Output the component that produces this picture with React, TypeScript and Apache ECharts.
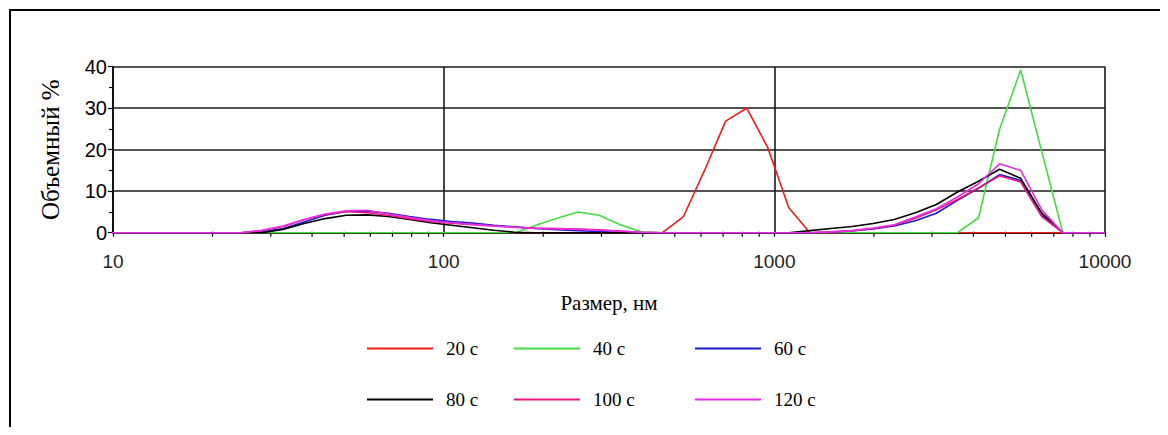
import React, { useEffect, useRef } from "react";
import * as echarts from "echarts";

// Size bins, nm (log-spaced)
const sizes = [
  8.721, 10.1, 11.7, 13.54, 15.69, 18.17, 21.04, 24.36, 28.21, 32.67, 37.84, 43.82, 50.75, 58.77,
  68.06, 78.82, 91.28, 105.7, 122.4, 141.8, 164.2, 190.1, 220.2, 255.0, 295.3, 342.0, 396.1, 458.7,
  531.2, 615.1, 712.4, 825.0, 955.4, 1106, 1281, 1484, 1718, 1990, 2305, 2669, 3091, 3580, 4145,
  4801, 5560, 6439, 7456, 8635, 10000,
];

// Volume %, one value per size bin
const s20 = [
  0, 0, 0, 0, 0, 0, 0, 0, 0, 0, 0, 0, 0, 0,
  0, 0, 0, 0, 0, 0, 0, 0, 0, 0, 0, 0, 0, 0,
  3.9, 15, 26.9, 30, 20.5, 6, 0, 0, 0, 0, 0, 0, 0, 0, 0,
  0, 0, 0, 0, 0, 0,
];
const s40 = [
  0, 0, 0, 0, 0, 0, 0, 0, 0, 0, 0, 0, 0, 0,
  0, 0, 0, 0, 0, 0, 0, 1.8, 3.5, 5.0, 4.2, 1.9, 0.2, 0,
  0, 0, 0, 0, 0, 0, 0, 0, 0, 0, 0, 0, 0, 0, 3.6,
  25, 39.2, 19.5, 0, 0, 0,
];
const s60 = [
  0, 0, 0, 0, 0, 0, 0, 0, 0.2, 1.0, 2.6, 4.2, 5.1, 5.2,
  4.7, 3.9, 3.2, 2.7, 2.3, 1.8, 1.4, 1.0, 0.7, 0.5, 0.3, 0.1, 0, 0,
  0, 0, 0, 0, 0, 0, 0, 0.1, 0.4, 0.9, 1.6, 2.9, 4.7, 7.8, 10.7,
  14.0, 12.6, 4.2, 0, 0, 0,
];
const s80 = [
  0, 0, 0, 0, 0, 0, 0, 0, 0, 0.8, 2.2, 3.4, 4.2, 4.3,
  3.9, 3.2, 2.4, 1.8, 1.2, 0.6, 0.1, 0, 0, 0, 0, 0, 0, 0,
  0, 0, 0, 0, 0, 0, 0.5, 1.0, 1.5, 2.2, 3.2, 4.8, 6.8, 9.8, 12.4,
  15.3, 13.1, 4.7, 0, 0, 0,
];
const s100 = [
  0, 0, 0, 0, 0, 0, 0, 0, 0.5, 1.5, 3.1, 4.4, 5.1, 4.8,
  4.2, 3.4, 2.7, 2.3, 1.9, 1.6, 1.3, 1.1, 1.0, 0.9, 0.7, 0.4, 0.1, 0,
  0, 0, 0, 0, 0, 0, 0, 0.2, 0.5, 1.0, 1.8, 3.5, 5.5, 8.0, 10.8,
  13.7, 12.2, 3.9, 0, 0, 0,
];
const s120 = [
  0, 0, 0, 0, 0, 0, 0, 0, 0.6, 1.6, 3.2, 4.5, 5.3, 5.4,
  4.5, 3.7, 2.9, 2.4, 2.0, 1.6, 1.3, 1.0, 0.9, 0.8, 0.6, 0.35, 0.1, 0,
  0, 0, 0, 0, 0, 0, 0, 0.2, 0.5, 1.1, 1.9, 3.8, 5.8, 8.6, 11.8,
  16.6, 15.0, 5.5, 0, 0, 0,
];

const seriesNames = ["20 с", "40 с", "60 с", "80 с", "100 с", "120 с"];
const seriesValues = [s20, s40, s60, s80, s100, s120];
const colors = ["#ee1c1c", "#44dc44", "#1a1ac8", "#000000", "#f0147a", "#e62ee6"];

// Minor tick positions on the log x axis
const minorTickSizes = [
  20, 30, 40, 50, 60, 70, 80, 90, 200, 300, 400, 500, 600, 700, 800, 900, 2000, 3000, 4000, 5000,
  6000, 7000, 8000, 9000,
];

const legendLeft = [359, 506, 687, 359, 506, 687];
const legendTop = [331, 331, 331, 382, 382, 382];

export default function App() {
  const ref = useRef<HTMLDivElement>(null);
  useEffect(() => {
    if (!ref.current) return;
    const chart = echarts.init(ref.current, null, { renderer: "svg" });
    const sans = "Liberation Sans";
    const serif = "Liberation Serif";
    const lineSeries = seriesNames.map((name, i) => ({
      name,
      type: "line",
      data: sizes.map((s, j) => [s, seriesValues[i][j]]),
      showSymbol: false,
      symbol: "none",
      smooth: false,
      color: colors[i],
      lineStyle: { color: colors[i], width: 1.6 },
      itemStyle: { color: colors[i] },
      z: 3,
    }));
    chart.setOption({
      animation: false,
      graphic: [
        {
          type: "rect",
          shape: { x: 2, y: 2, width: 1300, height: 600 },
          style: { fill: "none", stroke: "#000", lineWidth: 2 },
          silent: true,
        },
      ],
      grid: { left: 105, right: 55, top: 58.7, bottom: 194.3, containLabel: false },
      legend: seriesNames.map((n, i) => ({
        data: [n],
        left: legendLeft[i],
        top: legendTop[i],
        itemWidth: 66,
        itemHeight: 2,
        icon: "rect",
        selectedMode: false,
        padding: 0,
        textStyle: { fontFamily: serif, fontSize: 19, color: "#000", padding: [0, 0, 0, 8] },
      })),
      xAxis: {
        type: "log",
        logBase: 10,
        min: 10,
        max: 10000,
        name: "Размер, нм",
        nameLocation: "middle",
        nameGap: 60,
        nameTextStyle: { fontFamily: serif, fontSize: 21, color: "#000" },
        axisLine: { show: true, lineStyle: { color: "#000", width: 1.5 } },
        axisTick: { show: true, length: 4, lineStyle: { color: "#000", width: 1.2 } },
        axisLabel: {
          fontFamily: sans,
          fontSize: 19,
          color: "#222",
          margin: 19,
          formatter: (v: number) => String(Math.round(v)),
        },
        splitLine: { show: true, lineStyle: { color: "#1a1a1a", width: 1.6 } },
      },
      yAxis: {
        type: "value",
        min: 0,
        max: 40,
        interval: 10,
        name: "Объемный %",
        nameLocation: "middle",
        nameGap: 50,
        nameTextStyle: { fontFamily: serif, fontSize: 25, color: "#000" },
        axisLine: { show: true, lineStyle: { color: "#000", width: 1.5 } },
        axisTick: { show: true, length: 5, lineStyle: { color: "#000", width: 1.2 } },
        minorTick: { show: true, splitNumber: 2, length: 4, lineStyle: { color: "#000", width: 1.2 } },
        axisLabel: { fontFamily: sans, fontSize: 20, color: "#000", margin: 6, padding: [4, 0, 0, 0] },
        splitLine: { show: true, lineStyle: { color: "#1a1a1a", width: 1.6 } },
      },
      series: [
        ...lineSeries,
        {
          type: "custom",
          name: "minorTicks",
          silent: true,
          clip: false,
          z: 1,
          data: minorTickSizes.map((v) => [v, 0]),
          renderItem: (params: any, api: any) => {
            const p = api.coord([api.value(0), 0]);
            return {
              type: "line",
              shape: { x1: p[0], y1: p[1] - 1, x2: p[0], y2: p[1] + 4 },
              style: { stroke: "#000", lineWidth: 1.2 },
            };
          },
        },
      ],
    });
    return () => chart.dispose();
  }, []);
  return <div ref={ref} style={{ width: 1152, height: 419 }} />;
}
